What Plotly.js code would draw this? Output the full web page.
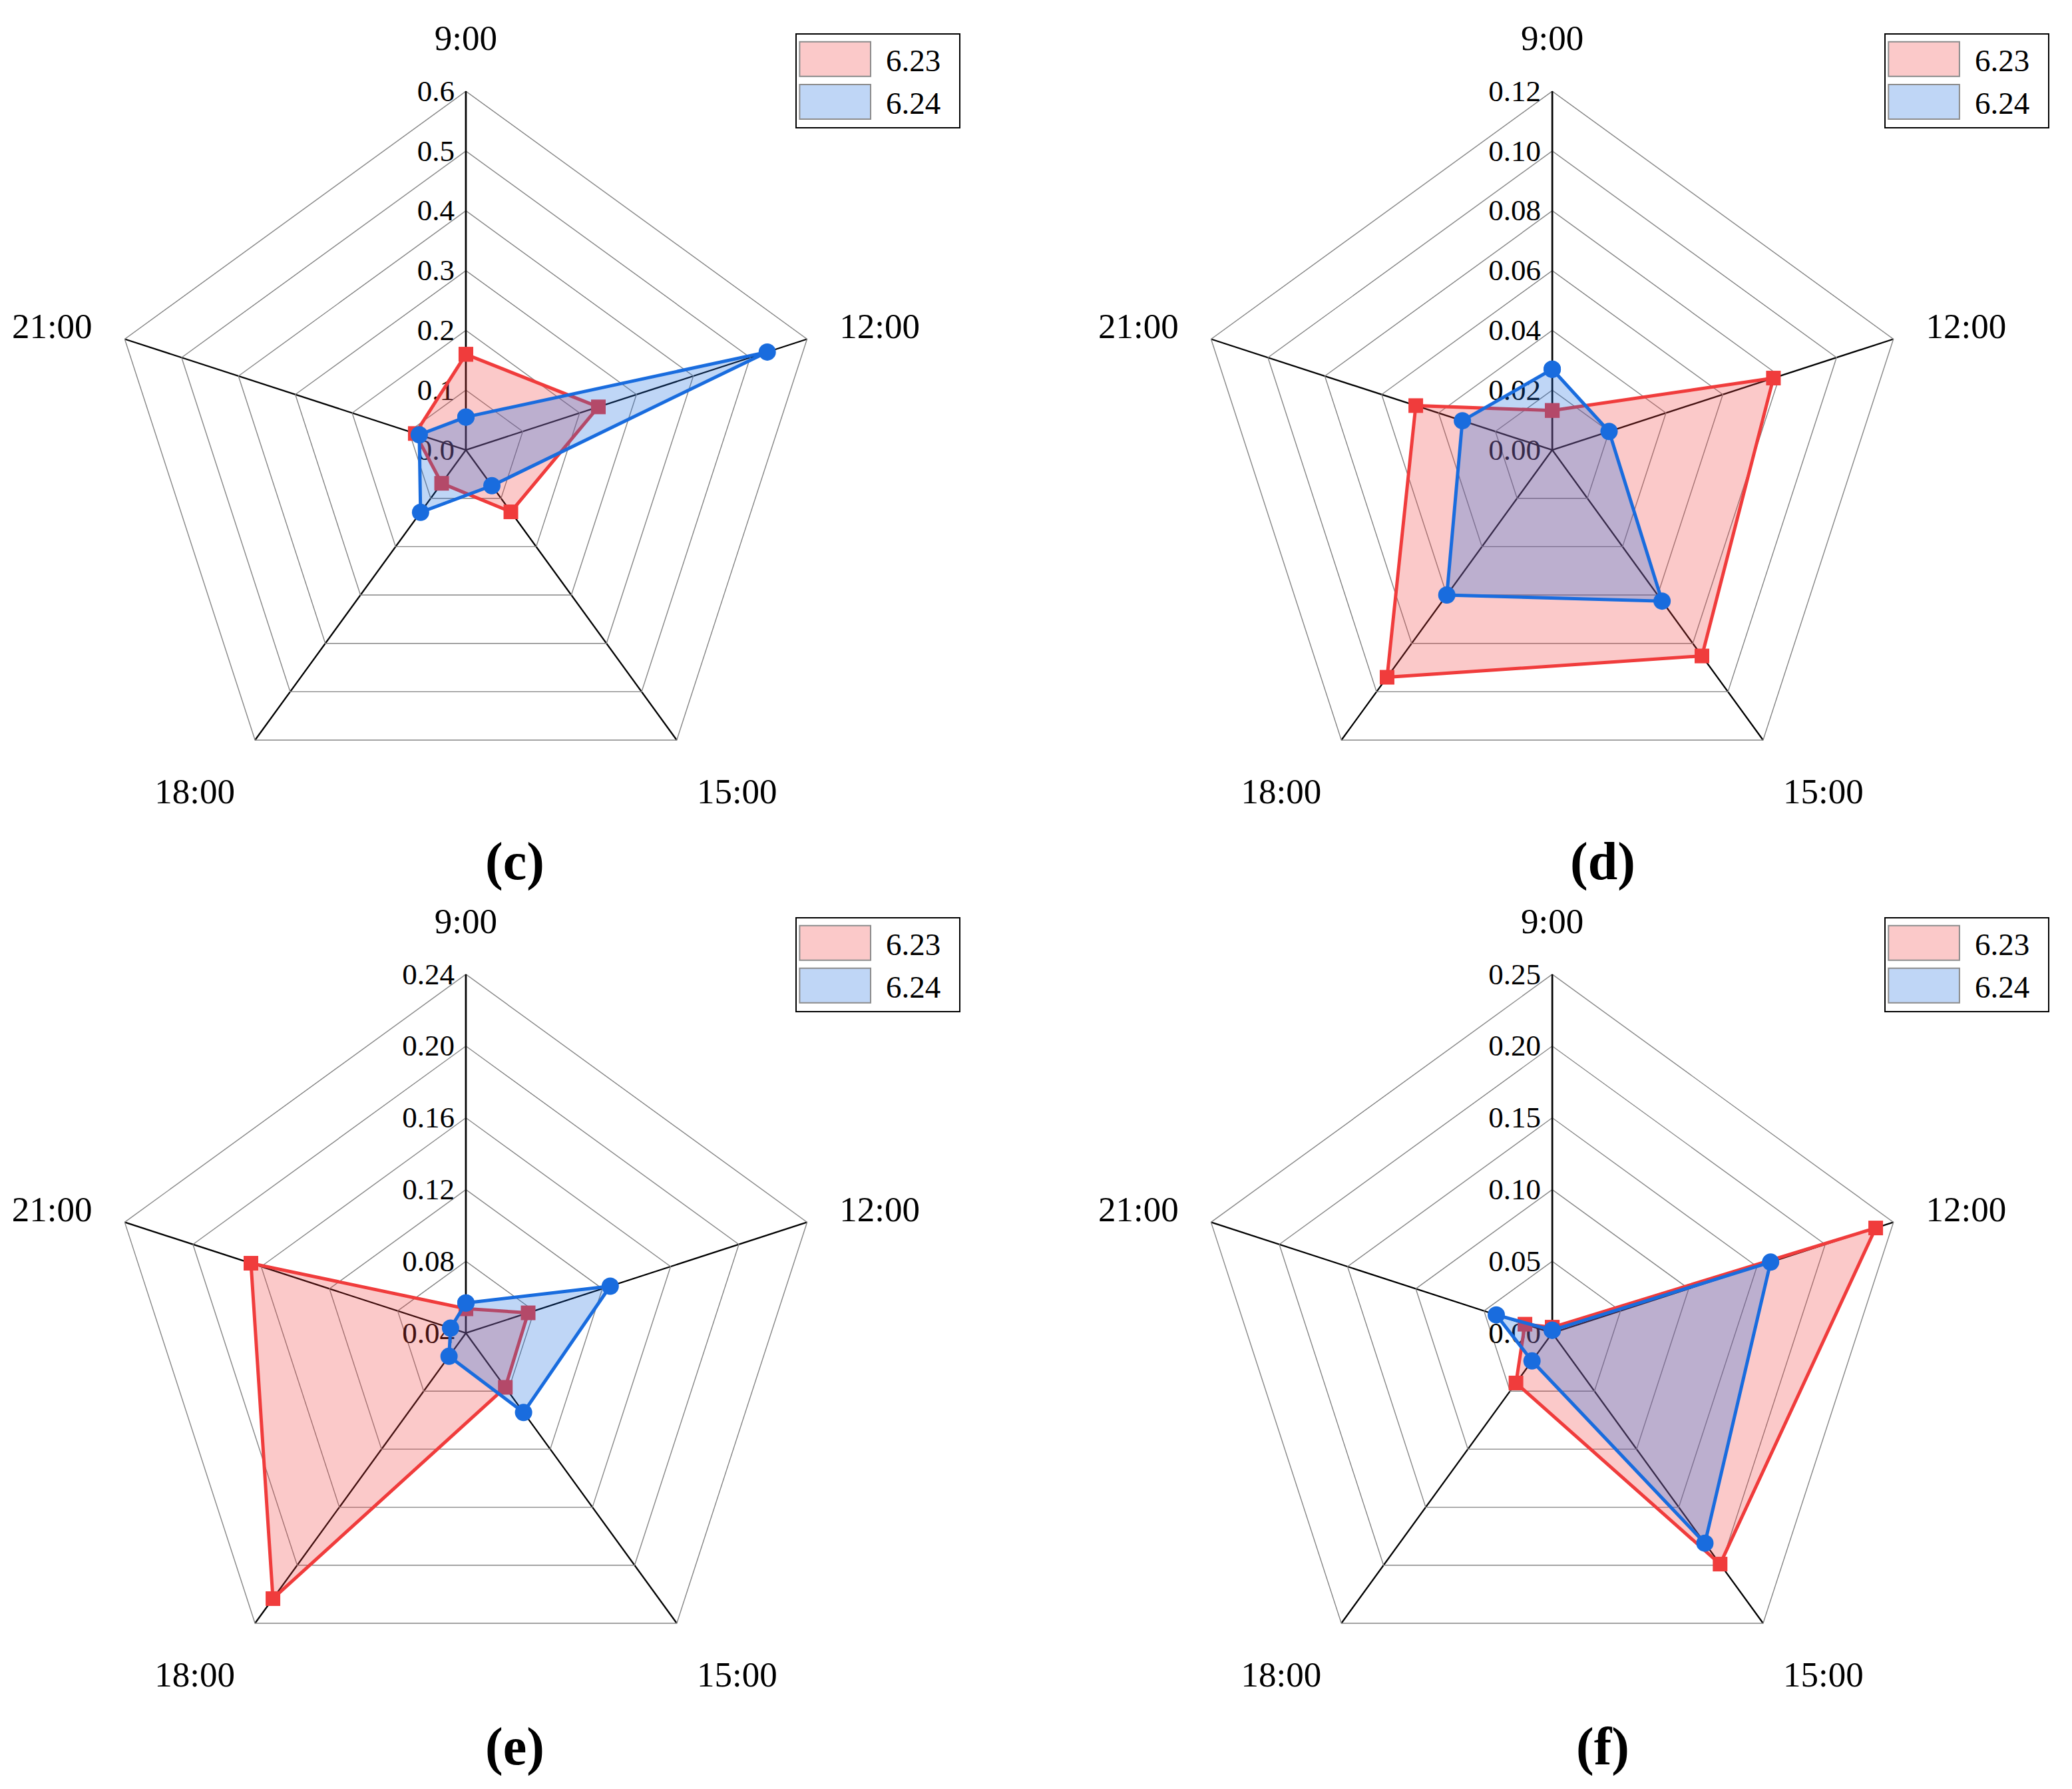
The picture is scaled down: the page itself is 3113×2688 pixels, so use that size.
<!DOCTYPE html>
<html>
<head>
<meta charset="utf-8">
<script src="https://cdn.plot.ly/plotly-3.0.1.min.js"></script>
<style>
html,body{margin:0;padding:0;background:#fff;}
#chart{width:3113px;height:2688px;}
/* legend swatches drawn as filled boxes, like the original figure */
#chart .legendlines, #chart .legendpoints { display: none; }
#chart .legendfill path {
  transform: translate(0px, -26px) scale(0.86, 8.67);
  stroke: #8c8c8c !important;
  stroke-width: 2px !important;
  vector-effect: non-scaling-stroke;
}
#chart g.legend > rect.bg, #chart g.legend2 > rect.bg,
#chart g.legend3 > rect.bg, #chart g.legend4 > rect.bg { width: 246px; }
</style>
</head>
<body>
<div id="chart"></div>
<script>
// ---- data ----
const categories = ['9:00', '12:00', '15:00', '18:00', '21:00'];
const seriesNames = ['6.23', '6.24'];

// panel (c)
const c_623 = [0.160, 0.233, 0.128, 0.069, 0.089];
const c_624 = [0.055, 0.530, 0.074, 0.129, 0.082];
// panel (d)
const d_623 = [0.0132, 0.0778, 0.0852, 0.094, 0.048];
const d_624 = [0.027, 0.020, 0.0625, 0.060, 0.0316];
// panel (e)
const e_623 = [0.0536, 0.0765, 0.0774, 0.223, 0.166];
const e_624 = [0.0568, 0.1246, 0.0947, 0.056, 0.049];
// panel (f)
const f_623 = [0.004, 0.237, 0.199, 0.043, 0.020];
const f_624 = [0.002, 0.160, 0.181, 0.024, 0.041];

const panelLabels = ['(c)', '(d)', '(e)', '(f)'];
const radialRanges = [[0, 0.6], [0, 0.12], [0.04, 0.24], [0, 0.25]];
const radialDticks = [0.1, 0.02, 0.04, 0.05];
const radialFormats = ['.1f', '.2f', '.2f', '.2f'];

// ---- styling ----
const FONT = 'Liberation Serif, Times New Roman, serif';
const RED = 'rgb(240,60,60)';
const RED_FILL = 'rgba(240,60,60,0.28)';
const BLUE = 'rgb(25,108,222)';
const BLUE_FILL = 'rgba(25,108,222,0.28)';

const panels = [
  {vals: [c_623, c_624], polar: 'polar',  legend: 'legend'},
  {vals: [d_623, d_624], polar: 'polar2', legend: 'legend2'},
  {vals: [e_623, e_624], polar: 'polar3', legend: 'legend3'},
  {vals: [f_623, f_624], polar: 'polar4', legend: 'legend4'}
];

const closeLoop = a => a.concat([a[0]]);

const traces = [];
panels.forEach((p) => {
  p.vals.forEach((v, si) => {
    const isRed = si === 0;
    traces.push({
      type: 'scatterpolar',
      subplot: p.polar,
      legend: p.legend,
      name: seriesNames[si],
      r: closeLoop(v),
      theta: closeLoop(categories),
      mode: 'lines+markers',
      fill: 'toself',
      fillcolor: isRed ? RED_FILL : BLUE_FILL,
      line: {color: isRed ? RED : BLUE, width: 5},
      marker: {
        symbol: isRed ? 'square' : 'circle',
        size: isRed ? 22 : 26,
        color: isRed ? RED : BLUE,
        line: {width: 0}
      },
      hoverinfo: 'skip'
    });
  });
});

// layout geometry (paper fractions)
const xDomains = [[0.0517, 0.3980], [0.5760, 0.9223]];
const yDomains = [[0.5480, 0.9490], [0.0543, 0.4554]];
const legendX = [0.3839, 0.9094];
const legendY = [0.9815, 0.4875];
const labelX = [0.2486, 0.7735];
const labelY = [0.5186, 0.0238];

function polarLayout(i) {
  const col = i % 2, row = Math.floor(i / 2);
  return {
    domain: {x: xDomains[col], y: yDomains[row]},
    gridshape: 'linear',
    bgcolor: 'rgba(0,0,0,0)',
    radialaxis: {
      range: radialRanges[i],
      dtick: radialDticks[i],
      tick0: radialRanges[i][0],
      tickformat: radialFormats[i],
      angle: 90,
      side: 'counterclockwise',
      tickangle: 90,
      showline: true,
      linecolor: '#000',
      linewidth: 2.5,
      gridcolor: '#858585',
      gridwidth: 1.4,
      ticks: '',
      tickfont: {family: FONT, size: 45, color: '#000'},
      layer: 'below traces'
    },
    angularaxis: {
      type: 'category',
      categoryarray: categories,
      rotation: 90,
      direction: 'clockwise',
      showline: true,
      linecolor: '#858585',
      linewidth: 1.4,
      gridcolor: '#000',
      gridwidth: 2.3,
      ticks: 'outside',
      ticklen: 40,
      tickcolor: 'rgba(0,0,0,0)',
      tickfont: {family: FONT, size: 53, color: '#000'},
      layer: 'below traces'
    }
  };
}

const layout = {
  width: 3113,
  height: 2688,
  margin: {l: 0, r: 0, t: 0, b: 0},
  paper_bgcolor: '#fff',
  plot_bgcolor: '#fff',
  font: {family: FONT, color: '#000'},
  showlegend: true,
  annotations: []
};

for (let i = 0; i < 4; i++) {
  const key = i === 0 ? 'polar' : 'polar' + (i + 1);
  layout[key] = polarLayout(i);
  const lkey = i === 0 ? 'legend' : 'legend' + (i + 1);
  const col = i % 2, row = Math.floor(i / 2);
  layout[lkey] = {
    x: legendX[col], y: legendY[row],
    xanchor: 'left', yanchor: 'top',
    bgcolor: '#fff',
    bordercolor: '#000',
    borderwidth: 2,
    itemwidth: 124,
    tracegroupgap: 0,
    font: {family: FONT, size: 47, color: '#000'}
  };
  layout.annotations.push({
    text: '<b>' + panelLabels[i] + '</b>',
    xref: 'paper', yref: 'paper',
    x: labelX[col], y: labelY[row],
    xanchor: 'center', yanchor: 'middle',
    showarrow: false,
    font: {family: FONT, size: 80, color: '#000'}
  });
}

Plotly.newPlot('chart', traces, layout, {displayModeBar: false, staticPlot: true});
</script>
</body>
</html>
